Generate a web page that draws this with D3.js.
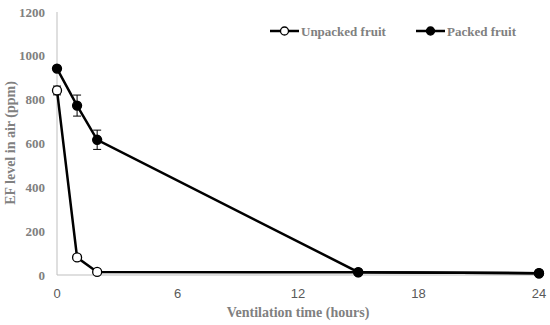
<!DOCTYPE html>
<html><head><meta charset="utf-8">
<script src="https://cdn.jsdelivr.net/npm/d3@7"></script>
<style>body{margin:0;background:#fff}</style></head>
<body><svg id="c" width="550" height="325"></svg>
<script>
const hours = [0, 1, 2, 15, 24];
const unpacked = [842, 80, 14, 12, 8];
const unpackedErr = [20, 0, 0, 0, 0];
const packed = [942, 773, 617, 13, 8];
const packedErr = [8, 48, 44, 0, 0];
const yTicks = [0, 200, 400, 600, 800, 1000, 1200];
const xTicks = [0, 6, 12, 18, 24];
const seriesNames = ["Unpacked fruit", "Packed fruit"];

const svg = d3.select("#c");
const x = d3.scaleLinear().domain([0, 24]).range([57, 539]);
const y = d3.scaleLinear().domain([0, 1200]).range([275, 12]);
const grey = "#808080";
const serif = "'Liberation Serif','Times New Roman',serif";

// axes lines
svg.append("line").attr("x1", x(0)).attr("x2", x(0)).attr("y1", y(1200)).attr("y2", y(0)).attr("stroke", "#bfbfbf").attr("stroke-width", 1);
svg.append("line").attr("x1", x(0)).attr("x2", x(24)).attr("y1", y(0)).attr("y2", y(0)).attr("stroke", "#bfbfbf").attr("stroke-width", 1);

// y tick labels
svg.selectAll(".yt").data(yTicks).enter().append("text")
  .attr("x", 45).attr("y", d => y(d) + 4.5).attr("text-anchor", "end")
  .attr("font-family", serif).attr("font-weight", "bold").attr("font-size", 13).attr("fill", grey)
  .text(d => d);
// x tick labels
svg.selectAll(".xt").data(xTicks).enter().append("text")
  .attr("x", d => x(d)).attr("y", 298).attr("text-anchor", "middle")
  .attr("font-family", "'Liberation Sans',Arial,sans-serif").attr("font-size", 13).attr("fill", "#595959")
  .text(d => d);

// titles
svg.append("text").attr("x", 298).attr("y", 317).attr("text-anchor", "middle")
  .attr("font-family", serif).attr("font-weight", "bold").attr("font-size", 14).attr("fill", grey)
  .text("Ventilation time (hours)");
svg.append("text").attr("transform", "translate(15,143) rotate(-90)").attr("text-anchor", "middle")
  .attr("font-family", serif).attr("font-weight", "bold").attr("font-size", 14).attr("fill", grey)
  .text("EF level in air (ppm)");

const line = d3.line().x(d => x(d[0])).y(d => y(d[1]));
function drawSeries(vals, errs, fill) {
  const pts = hours.map((h, i) => [h, vals[i], errs[i]]);
  const g = svg.append("g");
  pts.filter(p => p[2] > 0).forEach(p => {
    const cx = x(p[0]);
    g.append("line").attr("x1", cx).attr("x2", cx).attr("y1", y(p[1] + p[2])).attr("y2", y(p[1] - p[2])).attr("stroke", "#000").attr("stroke-width", 1);
    [p[1] + p[2], p[1] - p[2]].forEach(v => g.append("line").attr("x1", cx - 4).attr("x2", cx + 4).attr("y1", y(v)).attr("y2", y(v)).attr("stroke", "#000").attr("stroke-width", 1));
  });
  g.append("path").attr("d", line(pts)).attr("fill", "none").attr("stroke", "#000").attr("stroke-width", 2.5);
  g.selectAll("circle").data(pts).enter().append("circle")
    .attr("cx", d => x(d[0])).attr("cy", d => y(d[1])).attr("r", 4.5)
    .attr("fill", fill).attr("stroke", "#000").attr("stroke-width", 1.3);
}
drawSeries(unpacked, unpackedErr, "#fff");
drawSeries(packed, packedErr, "#000");

// legend
const legend = [{name: seriesNames[0], fill: "#fff", x0: 270}, {name: seriesNames[1], fill: "#000", x0: 416}];
legend.forEach(l => {
  svg.append("line").attr("x1", l.x0).attr("x2", l.x0 + 29).attr("y1", 31).attr("y2", 31).attr("stroke", "#000").attr("stroke-width", 2.5);
  svg.append("circle").attr("cx", l.x0 + 14.5).attr("cy", 31).attr("r", 4).attr("fill", l.fill).attr("stroke", "#000").attr("stroke-width", 1.3);
  svg.append("text").attr("x", l.x0 + 31).attr("y", 35.5).attr("font-family", serif).attr("font-weight", "bold")
    .attr("font-size", 13).attr("fill", grey).text(l.name);
});
</script></body></html>
